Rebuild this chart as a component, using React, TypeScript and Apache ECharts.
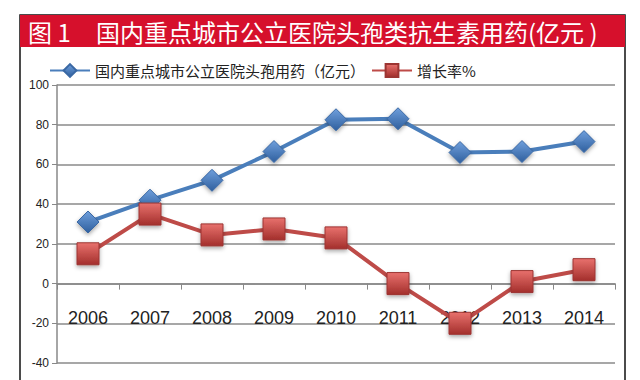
import React, { useEffect, useRef } from "react";
import * as echarts from "echarts";

const years = ["2006", "2007", "2008", "2009", "2010", "2011", "2012", "2013", "2014"];
const salesValues = [31, 42, 52, 66.5, 82.5, 83, 66, 66.5, 71.5];
const growthValues = [15, 35, 24.5, 27.5, 23, 0, -20, 1, 7];
const salesName = "国内重点城市公立医院头孢用药（亿元）";
const growthName = "增长率%";
const titleNum = "图 1";
const titleText = "国内重点城市公立医院头孢类抗生素用药(亿元 )";

export default function App() {
  const ref = useRef<HTMLDivElement>(null);
  useEffect(() => {
    const chart = echarts.init(ref.current!, null, { renderer: "svg" });
    const font = "'Noto Sans CJK SC', 'Liberation Sans', sans-serif";
    chart.setOption({
      animation: false,
      backgroundColor: "#ffffff",
      textStyle: { fontFamily: font },
      graphic: [
        { type: "rect", shape: { x: 20, y: 15, width: 605, height: 380 }, style: { fill: "none", stroke: "#111", lineWidth: 1.5 }, z: 0 },
        { type: "rect", shape: { x: 20, y: 15, width: 605, height: 32 }, style: { fill: "#d6102c" }, z: 1 },
        { type: "text", x: 28, y: 31, style: { text: titleNum, fill: "#fff", font: `24px ${font}`, textVerticalAlign: "middle" }, z: 2 },
        { type: "text", x: 96, y: 31, style: { text: titleText, fill: "#fff", font: `24px ${font}`, textVerticalAlign: "middle" }, z: 2 },
      ],
      legend: {
        top: 58,
        left: 44,
        itemWidth: 40,
        itemHeight: 16,
        itemGap: 6,
        textStyle: { fontSize: 15, color: "#222", fontFamily: font },
        data: [salesName, growthName],
      },
      grid: { left: 57, right: 25, top: 85, bottom: 17, containLabel: false, outerBoundsMode: "none" },
      xAxis: {
        type: "category",
        data: years,
        boundaryGap: true,
        offset: -79.4,
        axisLine: { onZero: false, lineStyle: { color: "#888", width: 1.5 } },
        axisTick: { show: true, length: 6, lineStyle: { color: "#888" } },
        axisLabel: { margin: 25, fontSize: 18, color: "#222", fontFamily: "'Liberation Sans', sans-serif" },
        z: 1,
      },
      yAxis: {
        type: "value",
        min: -40,
        max: 100,
        interval: 20,
        axisLine: { show: true, lineStyle: { color: "#888", width: 1.5 } },
        axisTick: { show: true, length: 5, lineStyle: { color: "#888" } },
        axisLabel: { fontSize: 12, color: "#222", margin: 8, fontFamily: "'Liberation Sans', sans-serif" },
        splitLine: { lineStyle: { color: "#8a8a8a", width: 1.5 } },
      },
      series: [
        {
          name: salesName,
          type: "line",
          data: salesValues,
          symbol: "diamond",
          symbolSize: 22,
          lineStyle: { color: "#4a7ebb", width: 4 },
          itemStyle: {
            color: new echarts.graphic.LinearGradient(0, 0, 0, 1, [
              { offset: 0, color: "#6f9fdc" },
              { offset: 1, color: "#2f5f9e" },
            ]),
            borderColor: "#3a68a4",
            borderWidth: 1,
            shadowColor: "rgba(0,0,0,0.35)",
            shadowBlur: 4,
            shadowOffsetY: 2,
          },
          z: 3,
        },
        {
          name: growthName,
          type: "line",
          data: growthValues,
          symbol: "rect",
          symbolSize: 22,
          lineStyle: { color: "#be4b48", width: 4 },
          itemStyle: {
            color: new echarts.graphic.LinearGradient(0, 0, 0, 1, [
              { offset: 0, color: "#e8716d" },
              { offset: 1, color: "#a32f2c" },
            ]),
            borderColor: "#9c3532",
            borderWidth: 1,
            shadowColor: "rgba(0,0,0,0.35)",
            shadowBlur: 4,
            shadowOffsetY: 2,
          },
          z: 4,
        },
      ],
    });
    return () => chart.dispose();
  }, []);
  return <div ref={ref} style={{ width: 640, height: 380, position: "absolute", left: 0, top: 0 }} />;
}
